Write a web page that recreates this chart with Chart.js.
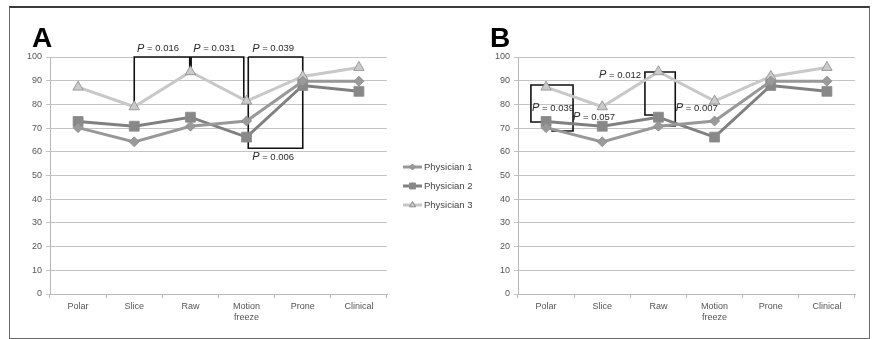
<!DOCTYPE html>
<html>
<head>
<meta charset="utf-8">
<script src="https://cdn.jsdelivr.net/npm/chart.js@4.4.0/dist/chart.umd.min.js"></script>
<style>
  body { margin: 0; background: #fff; }
  #frame { position: absolute; left: 9px; top: 6px; width: 859px; height: 330px;
           border: 1px solid #6a6a6a; border-top: 2px solid #3a3a3a; }
  canvas { position: absolute; top: 8px; }
  #chartA { left: 10px; }
  #chartB { left: 480px; }
</style>
</head>
<body>
<div id="frame"></div>
<canvas id="chartA" width="470" height="330"></canvas>
<canvas id="chartB" width="390" height="330"></canvas>
<script>
var categories = ['Polar', 'Slice', 'Raw', ['Motion', 'freeze'], 'Prone', 'Clinical'];
var seriesNames = ['Physician 1', 'Physician 2', 'Physician 3'];
var physician1 = [70.2, 64.2, 70.8, 73.0, 89.8, 89.8];
var physician2 = [72.8, 70.8, 74.6, 66.2, 88.0, 85.5];
var physician3 = [87.3, 79.0, 93.8, 81.4, 91.8, 95.6];
var yMin = 0, yMax = 100, yStep = 10;

// significance brackets, points given as [category index, value]
var bracketsA = [
  { pts: [[1, 80], [1, 100], [2.95, 100], [2.95, 82.5]], w: 1.6 },
  { pts: [[2, 100], [2, 95.5]], w: 3 },
  { pts: [[3.03, 100], [4, 100], [4, 61.5], [3.03, 61.5], [3.03, 100]], w: 1.6 }
];
var pLabelsA = [
  { text: '0.016', at: [1.05, 103.6], align: 'left' },
  { text: '0.031', at: [2.05, 103.6], align: 'left' },
  { text: '0.039', at: [3.1, 103.6], align: 'left' },
  { text: '0.006', at: [3.1, 57.8], align: 'left' }
];
var bracketsB = [
  { pts: [[-0.05, 72.6], [-0.27, 72.6], [-0.27, 88.2], [0.48, 88.2], [0.48, 68.8], [0.09, 68.8]], w: 1.6 },
  { pts: [[1.94, 75.5], [1.76, 75.5], [1.76, 93.7], [2.3, 93.7], [2.3, 70.9], [2.06, 70.9]], w: 1.6 }
];
var pLabelsB = [
  { text: '0.039', at: [-0.25, 78.5], align: 'left' },
  { text: '0.057', at: [0.48, 74.7], align: 'left' },
  { text: '0.012', at: [1.69, 92.4], align: 'right' },
  { text: '0.007', at: [2.31, 78.5], align: 'left' }
];

var lineColors = ['#989898', '#808080', '#c8c8c8'];
var markerColors = ['#9a9a9a', '#888888', '#cacaca'];
var markerStyles = ['rectRot', 'rect', 'triangle'];
var markerSizes = [5, 7, 6];
var FONT = '"Liberation Sans", Arial, sans-serif';

function drawP(ctx, text, px, py, align) {
  ctx.font = 'italic 11px ' + FONT;
  var wP = ctx.measureText('P').width;
  ctx.font = '9.5px ' + FONT;
  var rest = ' = ' + text;
  var wR = ctx.measureText(rest).width;
  var x0 = align === 'right' ? px - wP - wR : px;
  ctx.textAlign = 'left';
  ctx.textBaseline = 'middle';
  ctx.fillStyle = '#2a2a2a';
  ctx.font = 'italic 11px ' + FONT;
  ctx.fillText('P', x0, py);
  ctx.font = '9.5px ' + FONT;
  ctx.fillText(rest, x0 + wP, py);
}

var annotate = {
  id: 'annotate',
  beforeDatasetsDraw: function (chart, args, opts) {
    var ctx = chart.ctx, sx = chart.scales.x, sy = chart.scales.y;
    ctx.save();
    ctx.strokeStyle = '#111';
    ctx.lineJoin = 'miter';
    opts.brackets.forEach(function (b) {
      ctx.lineWidth = b.w;
      ctx.beginPath();
      b.pts.forEach(function (p, i) {
        var px = sx.getPixelForValue(p[0]), py = sy.getPixelForValue(p[1]);
        if (i === 0) ctx.moveTo(px, py); else ctx.lineTo(px, py);
      });
      ctx.stroke();
    });
    ctx.restore();
  },
  afterDatasetsDraw: function (chart, args, opts) {
    var ctx = chart.ctx, sx = chart.scales.x, sy = chart.scales.y;
    ctx.save();
    opts.labels.forEach(function (l) {
      drawP(ctx, l.text, sx.getPixelForValue(l.at[0]), sy.getPixelForValue(l.at[1]), l.align);
    });
    ctx.restore();
  },
  afterDraw: function (chart, args, opts) {
    var ctx = chart.ctx;
    ctx.save();
    ctx.fillStyle = '#000';
    ctx.font = 'bold 28px ' + FONT;
    ctx.textAlign = 'left';
    ctx.textBaseline = 'alphabetic';
    ctx.fillText(opts.letter, opts.letterX, 39);
    if (opts.legend) {
      var lx = 393, ly = 159;
      chart.data.datasets.forEach(function (ds, i) {
        var y = ly + i * 19;
        ctx.strokeStyle = ds.borderColor;
        ctx.lineWidth = 3;
        ctx.beginPath();
        ctx.moveTo(lx, y);
        ctx.lineTo(lx + 19, y);
        ctx.stroke();
        ctx.fillStyle = ds.pointBackgroundColor;
        ctx.strokeStyle = ds.pointBorderColor;
        ctx.lineWidth = 1;
        Chart.helpers.drawPoint(ctx, { pointStyle: ds.pointStyle, radius: ds.pointRadius * 0.6, borderWidth: 1, rotation: 0 }, lx + 9.5, y);
        ctx.fillStyle = '#444';
        ctx.font = '9.5px ' + FONT;
        ctx.textBaseline = 'middle';
        ctx.fillText(ds.label, lx + 21, y);
      });
    }
    ctx.restore();
  }
};

function buildDatasets() {
  var series = [physician1, physician2, physician3];
  return series.map(function (vals, i) {
    return {
      label: seriesNames[i],
      data: vals,
      borderColor: lineColors[i],
      backgroundColor: markerColors[i],
      borderWidth: 3,
      pointStyle: markerStyles[i],
      pointRadius: markerSizes[i],
      pointBackgroundColor: markerColors[i],
      pointBorderColor: '#8a8a8a',
      pointBorderWidth: 0.8,
      tension: 0
    };
  });
}

function makeChart(id, opts) {
  return new Chart(document.getElementById(id), {
    type: 'line',
    data: { labels: categories, datasets: buildDatasets() },
    options: {
      responsive: false,
      animation: false,
      layout: { padding: { left: 0, right: opts.padRight, top: 49, bottom: 0 } },
      plugins: {
        legend: { display: false },
        tooltip: { enabled: false },
        annotate: { brackets: opts.brackets, labels: opts.labels, letter: opts.letter, letterX: opts.letterX, legend: opts.legend }
      },
      scales: {
        x: {
          offset: true,
          grid: { offset: true, drawOnChartArea: false, drawTicks: true, tickLength: 4, color: '#b8b8b8' },
          border: { color: '#b8b8b8' },
          ticks: { color: '#555', font: { size: 9, family: FONT }, padding: 3, maxRotation: 0, autoSkip: false },
          afterFit: function (s) { s.height = 44; }
        },
        y: {
          min: yMin, max: yMax,
          grid: { color: '#c4c4c4', tickLength: 4 },
          border: { color: '#b8b8b8' },
          ticks: { stepSize: yStep, color: '#555', font: { size: 9, family: FONT }, padding: 4 },
          afterFit: function (s) { s.width = opts.axisWidth; }
        }
      }
    },
    plugins: [annotate]
  });
}

makeChart('chartA', { brackets: bracketsA, labels: pLabelsA, letter: 'A', letterX: 22, legend: true, padRight: 93, axisWidth: 40 });
makeChart('chartB', { brackets: bracketsB, labels: pLabelsB, letter: 'B', letterX: 10, legend: false, padRight: 15, axisWidth: 38 });
</script>
</body>
</html>
